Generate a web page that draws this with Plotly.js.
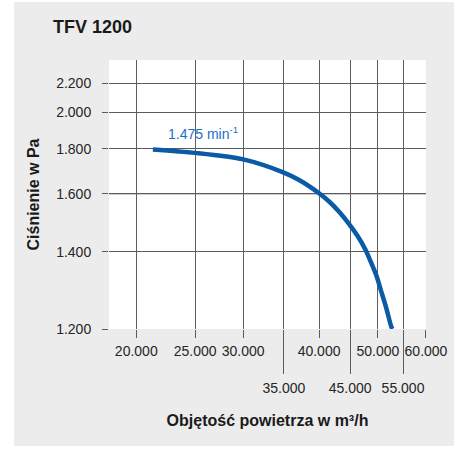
<!DOCTYPE html>
<html>
<head>
<meta charset="utf-8">
<script src="https://cdn.plot.ly/plotly-3.0.1.min.js"></script>
<style>
  html, body { margin: 0; padding: 0; background: #ffffff; }
  #chart { position: absolute; left: 14px; top: 2px; width: 440px; height: 444px; }
</style>
</head>
<body>
<div id="chart"></div>
<script>
// ---- data ----
const flowM3h = [21300, 25000, 30000, 35000, 37150, 40000, 41600, 43200, 44900, 46300, 47700, 48700, 49700, 50600, 51600, 52550, 52800];
const pressurePa = [1796, 1779, 1748, 1688, 1655, 1602, 1569, 1531, 1487, 1449, 1406, 1369, 1332, 1291, 1249, 1207, 1200];
const xTicksRow1 = [20000, 25000, 30000, 40000, 50000, 60000];
const xTicksRow2 = [35000, 45000, 55000];
const yTicks = [1200, 1400, 1600, 1800, 2000, 2200];
const speedLabel = '1.475 min<sup>-1</sup>';
const labelAt = { x: 22400, p: 1882 };

// The reference uses a reciprocal pressure scale: position ~ 1/p
const scaleP = p => 1e6 / p;
const fmt = v => String(v).replace(/\B(?=(\d{3})+(?!\d))/g, '.');

const font = 'Liberation Sans, Arial, sans-serif';
const gridCol = '#5c5c5c';

const trace = {
  x: flowM3h,
  y: pressurePa.map(scaleP),
  type: 'scatter',
  mode: 'lines',
  line: { color: '#0a5aa6', width: 4.5, shape: 'spline', smoothing: 0.8 },
  hoverinfo: 'skip',
  showlegend: false
};
// invisible trace to bind the second x axis
const trace2 = { x: [xTicksRow2[0]], y: [scaleP(1800)], xaxis: 'x2', mode: 'markers', marker: { opacity: 0 }, showlegend: false, hoverinfo: 'skip' };

const xRange = [4.2561, 4.7782];

const layout = {
  width: 440, height: 444,
  paper_bgcolor: '#ececec',
  plot_bgcolor: '#ffffff',
  separators: ',.',
  margin: { l: 95, r: 28, t: 58, b: 117 },
  font: { family: font, color: '#262626', size: 14 },
  title: {
    text: '<b>TFV 1200</b>',
    font: { family: font, size: 18, color: '#1a1a1a' },
    xref: 'container', yref: 'container',
    x: 39 / 440, xanchor: 'left',
    y: 1 - 24.5 / 444, yanchor: 'middle'
  },
  xaxis: {
    type: 'log', range: xRange,
    tickvals: xTicksRow1, ticktext: xTicksRow1.map(fmt),
    ticks: 'outside', ticklen: 8, tickwidth: 1, tickcolor: gridCol,
    showgrid: true, gridcolor: gridCol, gridwidth: 1,
    zeroline: false, showline: false,
    tickfont: { size: 14, color: '#262626' },
    ticklabelstandoff: 1,
    fixedrange: true
  },
  xaxis2: {
    type: 'log', range: xRange, overlaying: 'x', anchor: 'y', side: 'bottom',
    tickvals: xTicksRow2, ticktext: xTicksRow2.map(fmt),
    ticks: 'outside', ticklen: 44, tickwidth: 1, tickcolor: gridCol,
    showgrid: true, gridcolor: gridCol, gridwidth: 1,
    zeroline: false, showline: false,
    tickfont: { size: 14, color: '#262626' },
    ticklabelstandoff: 2,
    title: { text: '<b>Objętość powietrza w m³/h</b>', font: { size: 16, color: '#1a1a1a' }, standoff: 20 },
    fixedrange: true
  },
  yaxis: {
    type: 'linear', range: [scaleP(1200), 419.1],
    tickvals: yTicks.map(scaleP), ticktext: yTicks.map(fmt),
    ticks: 'outside', ticklen: 6, tickwidth: 1, tickcolor: gridCol,
    showgrid: true, gridcolor: gridCol, gridwidth: 1,
    zeroline: false, showline: false,
    tickfont: { size: 14, color: '#262626' },
    ticklabelstandoff: 8,
    title: { text: '<b>Ciśnienie w Pa</b>', font: { size: 16, color: '#1a1a1a' }, standoff: 12 },
    fixedrange: true
  },
  shapes: [
    { type: 'line', xref: 'paper', x0: 0, x1: 1, yref: 'y', y0: scaleP(1600), y1: scaleP(1600), line: { color: '#111111', width: 1 }, layer: 'below' },
    { type: 'line', xref: 'x', x0: Math.log10(xTicksRow1[0]), x1: Math.log10(xTicksRow1[0]), yref: 'paper', y0: 0, y1: 1, line: { color: '#111111', width: 1 }, layer: 'below' }
  ],
  annotations: [{
    x: Math.log10(labelAt.x), y: scaleP(labelAt.p), xref: 'x', yref: 'y',
    text: speedLabel, showarrow: false, xanchor: 'left', yanchor: 'middle',
    font: { family: font, size: 14, color: '#1d6fbf' }
  }]
};

Plotly.newPlot('chart', [trace, trace2], layout, { displayModeBar: false, staticPlot: true });
</script>
</body>
</html>
